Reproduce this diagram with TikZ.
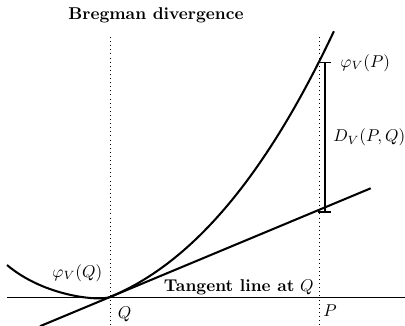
\documentclass[tikz,border=0pt]{standalone}
\begin{document}
\begin{tikzpicture}[x=0.585pt,y=-0.585pt,
  curveline/.style={line width=1.2pt,line join=round},
  guide/.style={dotted,line width=0.4pt},
  axisline/.style={line width=0.5pt},
  barline/.style={line width=0.8pt},
  lbl/.style={inner sep=0pt}]
\useasboundingbox (0,0) rectangle (405,325);
% coordinates
\coordinate (Qpt) at (110,297);
\coordinate (Qtop) at (110,37);
\coordinate (Qbot) at (110,325);
\coordinate (Ptop) at (319,37);
\coordinate (Pbot) at (319,325);
\coordinate (axL) at (7,297);
\coordinate (axR) at (405,297);
\coordinate (curveL) at (7,265);
\coordinate (tanL) at (40,326.2);
\coordinate (tanR) at (370.7,188.3);
\coordinate (barT) at (325,62.5);
\coordinate (barB) at (325,212);
\coordinate (tickTL) at (318,62.5);
\coordinate (tickTR) at (331,62.5);
\coordinate (tickBL) at (318,212);
\coordinate (tickBR) at (331,212);
% guides
\draw[guide] (Qtop) -- (Qbot);
\draw[guide] (Ptop) -- (Pbot);
\draw[axisline] (axL) -- (axR);
% curve
\draw[curveline] (curveL) .. controls (45,297) and (100,301.2) .. (Qpt)
  -- plot[domain=0:2.24,samples=120,variable=\s]
  ({110+100*\s},{297-(41.7*\s+27*\s*\s+3.3*\s*\s*\s)});
% tangent
\draw[curveline] (tanL) -- (tanR);
% divergence bar
\draw[barline] (barT) -- (barB);
\draw[barline] (tickTL) -- (tickTR);
\draw[barline] (tickBL) -- (tickBR);
% labels
\node[lbl,anchor=base] (title) at (156,19) {\textbf{Bregman divergence}};
\node[lbl,anchor=base west] (phiP) at (340,67) {$\varphi_V(P)$};
\node[lbl,anchor=base west] (DV) at (333,141.5) {$D_V(P,Q)$};
\node[lbl,anchor=base west] (phiQ) at (52,277) {$\varphi_V(Q)$};
\node[lbl,anchor=base east] (tang) at (314,291.5) {\textbf{Tangent line at} $Q$};
\node[lbl,anchor=base west] (Qlab) at (117.5,318.5) {$Q$};
\node[lbl,anchor=base west] (Plab) at (323,316.5) {$P$};
\end{tikzpicture}
\end{document}
